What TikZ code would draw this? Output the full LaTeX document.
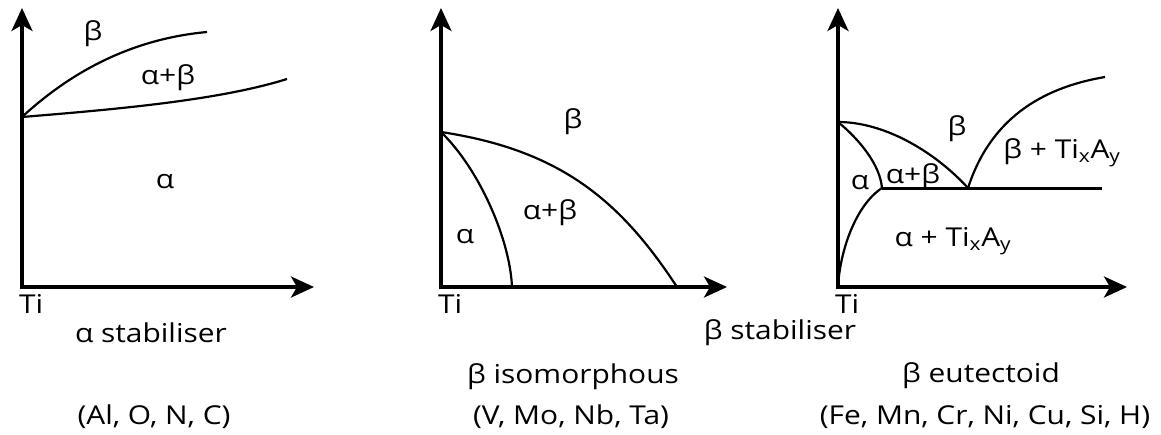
\documentclass[tikz,border=0pt]{standalone}
\usepackage{fontspec}
\usepackage{graphicx}
\setmainfont{Open Sans}
\usetikzlibrary{arrows.meta}
\newcommand{\stx}[1]{\scalebox{1.15}[1]{#1}}
\begin{document}
\begin{tikzpicture}[x=1pt,y=-1pt,
  axis/.style={line width=3.5pt,-{Stealth[length=23pt,width=21pt,inset=6pt]}},
  phase/.style={line width=2.2pt},
  lbl/.style={font=\fontsize{26}{28}\selectfont,inner sep=0pt},
  captxt/.style={font=\fontsize{26}{28}\selectfont,inner sep=0pt}]
\useasboundingbox (0,0) rectangle (1161,434);
% ---------- panel 1
\coordinate (o1) at (22,287);
\coordinate (y1) at (22,8);
\coordinate (x1) at (314,287);
\coordinate (p1) at (22,117);
\coordinate (u1) at (207,32);
\coordinate (l1) at (287,79);
\draw[axis] ([yshift=1.75pt]o1) -- (y1);
\draw[axis] ([xshift=-1.75pt]o1) -- (x1);
\draw[phase] (p1) .. controls (60,82) and (120,40) .. (u1);
\draw[phase] (p1) .. controls (120,109) and (220,100) .. (l1);
\node[lbl] (b1) at (93,34) {\stx{β}};
\node[lbl] (ab1) at (168,78) {\stx{α+β}};
\node[lbl] (a1) at (165,182) {\stx{α}};
\node[lbl,anchor=base west] (ti1) at (19,313) {\stx{Ti}};
% ---------- panel 2
\coordinate (o2) at (441,287);
\coordinate (y2) at (441,8);
\coordinate (x2) at (727,287);
\coordinate (p2) at (441,132);
\coordinate (e2a) at (512,287);
\coordinate (e2b) at (677,287);
\draw[axis] ([yshift=1.75pt]o2) -- (y2);
\draw[axis] ([xshift=-1.75pt]o2) -- (x2);
\draw[phase] (p2) .. controls (480,170) and (510,240) .. (e2a);
\draw[phase] (p2) .. controls (560,150) and (620,200) .. (e2b);
\node[lbl] (b2) at (573,122) {\stx{β}};
\node[lbl] (ab2) at (550,213) {\stx{α+β}};
\node[lbl] (a2) at (465,237) {\stx{α}};
\node[lbl,anchor=base west] (ti2) at (438,313) {\stx{Ti}};
% ---------- panel 3
\coordinate (o3) at (838,287);
\coordinate (y3) at (838,8);
\coordinate (x3) at (1127,287);
\coordinate (p3) at (838,122);
\coordinate (m3) at (882,188);
\coordinate (e3) at (968,188);
\coordinate (h3) at (1102,188);
\coordinate (t3) at (1105,77);
\draw[axis] ([yshift=1.75pt]o3) -- (y3);
\draw[axis] ([xshift=-1.75pt]o3) -- (x3);
\draw[phase] (p3) .. controls (885,122) and (935,152) .. (e3);
\draw[phase] (p3) .. controls (860,140) and (880,165) .. (m3);
\draw[phase] (m3) .. controls (856,205) and (840,250) .. (o3);
\draw[line width=3pt] (m3) -- (h3);
\draw[phase] (e3) .. controls (990,120) and (1040,88) .. (t3);
\node[lbl] (b3) at (957,129) {\stx{β}};
\node[lbl] (bt3) at (1062,153) {\stx{β + Ti\textsubscript{x}A\textsubscript{y}}};
\node[lbl] (a3) at (860,183) {\stx{α}};
\node[lbl] (ab3) at (913,177) {\stx{α+β}};
\node[lbl] (at3) at (953,241) {\stx{α + Ti\textsubscript{x}A\textsubscript{y}}};
\node[lbl,anchor=base west] (ti3) at (835,313) {\stx{Ti}};
% ---------- captions
\node[captxt] (c1) at (151,333) {\stx{α stabiliser}};
\node[captxt,anchor=base] (c2) at (780,339) {\stx{β stabiliser}};
\node[captxt] (c3) at (573,377) {\stx{β isomorphous}};
\node[captxt] (c4) at (981,376) {\stx{β eutectoid}};
\node[captxt] (c5) at (154,417) {\stx{(Al, O, N, C)}};
\node[captxt] (c6) at (571,417) {\stx{(V, Mo, Nb, Ta)}};
\node[captxt] (c7) at (985,417) {\stx{(Fe, Mn, Cr, Ni, Cu, Si, H)}};
\end{tikzpicture}
\end{document}
